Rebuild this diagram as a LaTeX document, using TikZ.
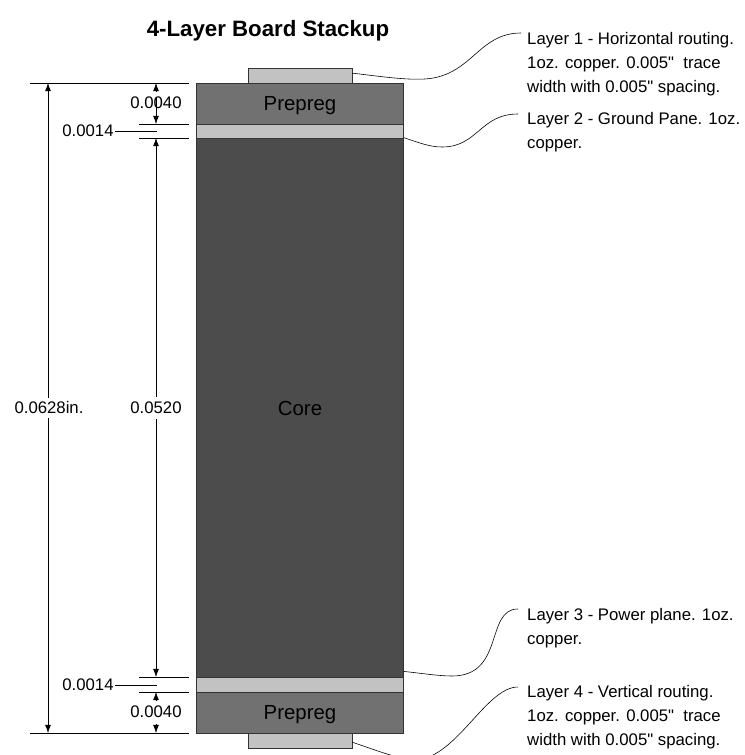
\documentclass[tikz,border=0pt]{standalone}
\usepackage{fontspec}
\setmainfont[Ligatures=TeXOff]{Liberation Sans}
\usetikzlibrary{arrows.meta}

\tikzset{
	layer/.style={draw=black!80, line width=0.5pt, inner sep=0pt, minimum width=6.21cm},
	trace/.style={draw=black!80, line width=0.5pt, fill=lightcu, inner sep=0pt, minimum width=3.12cm, minimum height=0.45cm},
	dimline/.style={line width=0.6pt},
	dimarrow/.style={line width=0.5pt, -{Latex[length=7pt,width=5pt]}},
	leader/.style={line width=0.5pt},
	dimtext/.style={font=\fontsize{14.3}{14.3}\selectfont, inner sep=1pt},
	layername/.style={font=\fontsize{17.4}{17.4}\selectfont, inner sep=1pt},
	note/.style={font=\fontsize{14.3}{20.5}\selectfont, align=left, anchor=north west, inner sep=0pt},
}
\definecolor{lightcu}{HTML}{C2C2C2}
\definecolor{prepreg}{HTML}{717171}
\definecolor{core}{HTML}{4C4C4C}

\begin{document}
\begin{tikzpicture}[x=0.03cm,y=-0.03cm]
	\useasboundingbox (0,0) rectangle (744,755);
	\clip (0,0) rectangle (744,755);

%% Title
	\draw (268,31) node[font=\bfseries\fontsize{19}{19}\selectfont] (title){4-Layer Board Stackup};

%% Stack
	\draw (300,103.5) node[layer, fill=prepreg, minimum height=1.23cm] (prepregtop){};
	\draw (300,131) node[layer, fill=lightcu, minimum height=0.42cm] (groundplane){};
	\draw (300,407.5) node[layer, fill=core, minimum height=16.17cm] (corelayer){};
	\draw (300,684.5) node[layer, fill=lightcu, minimum height=0.45cm] (powerplane){};
	\draw (300,712.5) node[layer, fill=prepreg, minimum height=1.23cm] (prepregbot){};
	\draw (300,75.5) node[trace] (tracetop){};
	\draw (300,740.5) node[trace] (tracebot){};
	\draw (300,106) node[layername] (prepregnametop){Prepreg};
	\draw (300,408) node[layername] (corename){Core};
	\draw (300,715) node[layername] (prepregnamebot){Prepreg};

%% Dimension lines
	\draw[dimline] (30,83) coordinate (totaltop) -- (189,83);
	\draw[dimline] (30,733) coordinate (totalbot) -- (189,733);
	\draw[dimline] (139,83) -- (189,83);
	\draw[dimline] (139,124) -- (189,124);
	\draw[dimline] (139,138) -- (189,138);
	\draw[dimline] (139,677) -- (189,677);
	\draw[dimline] (139,692) -- (189,692);
	\draw[dimline] (139,733) -- (189,733);

%% Dimension labels
	\draw (49,408) node[dimtext] (total){0.0628in.};
	\draw (156,103) node[dimtext] (prepregdimtop){0.0040};
	\draw (156,408) node[dimtext] (coredim){0.0520};
	\draw (156,712) node[dimtext] (prepregdimbot){0.0040};
	\draw (88,131) node[dimtext] (grounddim){0.0014};
	\draw (88,685) node[dimtext] (powerdim){0.0014};

%% Arrows
	\draw[dimarrow] (48,398) -- (48,83);
	\draw[dimarrow] (48,418) -- (48,733);
	\draw[dimarrow] (156,91) -- (156,83);
	\draw[dimarrow] (156,97) -- (156,124);
	\draw[dimarrow] (156,397) -- (156,138);
	\draw[dimarrow] (156,419) -- (156,677);
	\draw[dimarrow] (156,700) -- (156,692);
	\draw[dimarrow] (156,724) -- (156,733);
	\draw[leader] (grounddim.east) -- (157,131);
	\draw[leader] (powerdim.east) -- (157,685);

%% Layer notes
	\draw (527,32) node[note] (noteone){Layer 1 - Horizontal routing.\\1oz. copper. 0.005"\ \ trace\\width with 0.005" spacing.};
	\draw (527,112) node[note] (notetwo){Layer 2 - Ground Pane. 1oz.\\copper.};
	\draw (527,608) node[note] (notethree){Layer 3 - Power plane. 1oz.\\copper.};
	\draw (527,685) node[note] (notefour){Layer 4 - Vertical routing.\\1oz. copper. 0.005"\ \ trace\\width with 0.005" spacing.};

% Lines
	\draw[leader] ([yshift=2pt]tracetop.east) .. controls (385,77) and (405,80) .. (425,79) .. controls (472,76) and (478,33) .. (521,33) coordinate (noteoneend);
	\draw[leader] (corelayer.north east) .. controls (420,143) and (430,147) .. (442,147) .. controls (478,147) and (480,114) .. (518,114) coordinate (notetwoend);
	\draw[leader] ([yshift=5pt]corelayer.south east) .. controls (420,673) and (438,676) .. (452,676) .. controls (505,676) and (485,609) .. (518,609) coordinate (notethreeend);
	\draw[leader] ([yshift=-1.5pt]tracebot.east) .. controls (370,748) and (395,758) .. (412,760) .. controls (455,762) and (485,687) .. (518,687) coordinate (notefourend);
\end{tikzpicture}
\end{document}
